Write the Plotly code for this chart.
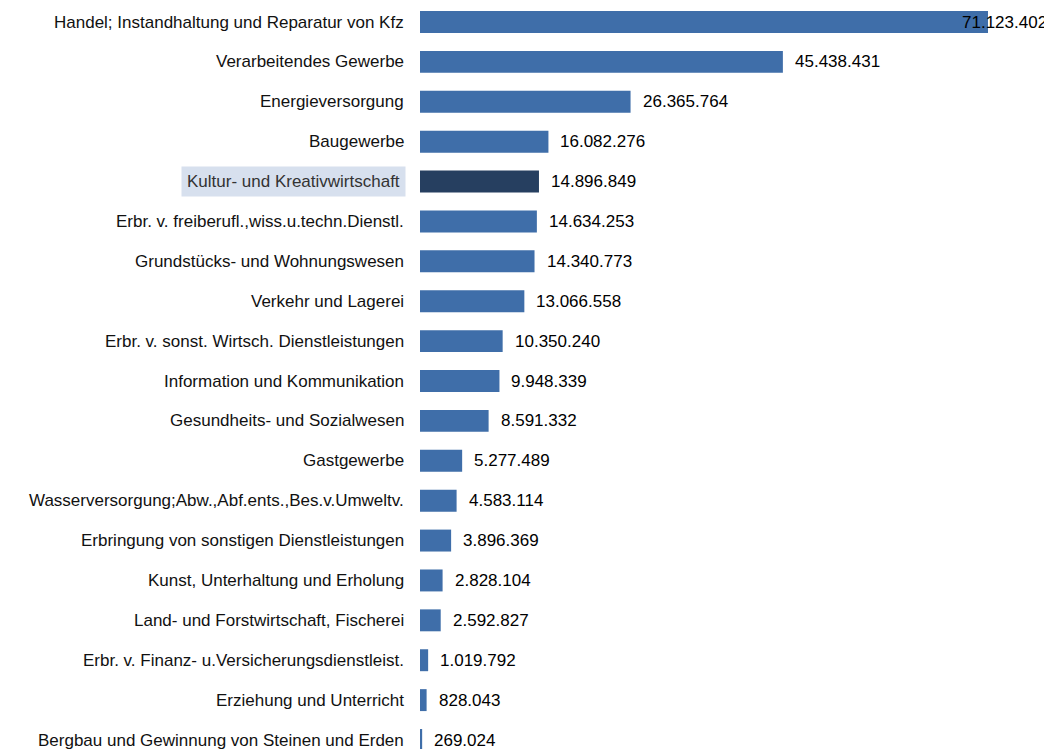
import plotly.graph_objects as go

categories = [
    "Handel; Instandhaltung und Reparatur von Kfz",
    "Verarbeitendes Gewerbe",
    "Energieversorgung",
    "Baugewerbe",
    "Kultur- und Kreativwirtschaft",
    "Erbr. v. freiberufl.,wiss.u.techn.Dienstl.",
    "Grundstücks- und Wohnungswesen",
    "Verkehr und Lagerei",
    "Erbr. v. sonst. Wirtsch. Dienstleistungen",
    "Information und Kommunikation",
    "Gesundheits- und Sozialwesen",
    "Gastgewerbe",
    "Wasserversorgung;Abw.,Abf.ents.,Bes.v.Umweltv.",
    "Erbringung von sonstigen Dienstleistungen",
    "Kunst, Unterhaltung und Erholung",
    "Land- und Forstwirtschaft, Fischerei",
    "Erbr. v. Finanz- u.Versicherungsdienstleist.",
    "Erziehung und Unterricht",
    "Bergbau und Gewinnung von Steinen und Erden",
]
values = [71123402, 45438431, 26365764, 16082276, 14896849, 14634253, 14340773,
          13066558, 10350240, 9948339, 8591332, 5277489, 4583114, 3896369,
          2828104, 2592827, 1019792, 828043, 269024]
highlight = "Kultur- und Kreativwirtschaft"

def fmt(v):
    return f"{v:,}".replace(",", ".")

FONT = "Liberation Sans Narrow, Arial Narrow, Liberation Sans, Arial, sans-serif"
colors = ["#263F60" if c == highlight else "#3F6EA9" for c in categories]

W, H = 1044, 741
fig = go.Figure()
fig.add_trace(go.Bar(
    x=values, y=categories, orientation="h",
    marker=dict(color=colors, line=dict(width=0)),
    width=0.55, hoverinfo="skip",
))

annotations = []
for i, (c, v) in enumerate(zip(categories, values)):
    if c == highlight:
        annotations.append(dict(
            x=0, y=c, xref="x", yref="y", text=c, showarrow=False,
            xanchor="right", xshift=-14, font=dict(family=FONT, size=17, color="#333"),
            bgcolor="#D7E0EE", borderpad=5,
        ))
    else:
        annotations.append(dict(
            x=0, y=c, xref="x", yref="y", text=c, showarrow=False,
            xanchor="right", xshift=-14, font=dict(family=FONT, size=17, color="#111"),
        ))
    if i == 0:
        annotations.append(dict(
            x=1, y=c, xref="paper", yref="y", text=fmt(v), showarrow=False,
            xanchor="right", xshift=-3, font=dict(family=FONT, size=17, color="#000"),
        ))
    else:
        annotations.append(dict(
            x=v, y=c, xref="x", yref="y", text=fmt(v), showarrow=False,
            xanchor="left", xshift=10, font=dict(family=FONT, size=17, color="#000"),
        ))

n = len(categories)
L = 412
fig.update_layout(
    width=W, height=H,
    margin=dict(l=L, r=0, t=0, b=0),
    plot_bgcolor="white", paper_bgcolor="white",
    showlegend=False,
    xaxis=dict(range=[0, (W - L) / 568 * 71123402], visible=False),
    yaxis=dict(
        categoryorder="array", categoryarray=categories,
        range=[n - 1 + (H - 732) / 39.9, -14 / 39.9],
        showticklabels=False, showgrid=False, zeroline=False,
    ),
    annotations=annotations,
)

fig.write_html("out.html")
